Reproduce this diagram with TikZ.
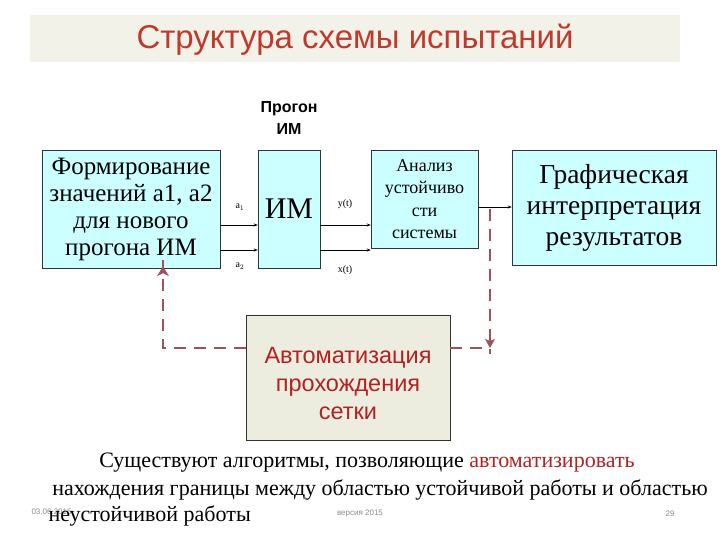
\documentclass[tikz,border=0pt]{standalone}
\usepackage{fontspec}
\setmainfont{Liberation Serif}
\setsansfont{Liberation Sans}
\usetikzlibrary{arrows.meta}
\definecolor{boxc}{HTML}{CCFFFF}
\definecolor{autoc}{HTML}{ECECDF}
\definecolor{titlec}{HTML}{C0392B}
\definecolor{dashc}{HTML}{A0525A}
\definecolor{redt}{HTML}{B22222}
\tikzset{
 blk/.style={draw=black!80,fill=boxc,inner sep=0pt,align=center},
 sig/.style={thick,-{Stealth[length=4pt]}},
 fb/.style={dashc,line width=2.2pt,dash pattern=on 12pt off 8pt},
 lbl/.style={font=\fontsize{10}{11}\selectfont},
}
\begin{document}
\begin{tikzpicture}[x=1pt,y=-1pt]
\useasboundingbox[fill=white] (0,0) rectangle (720,540);
\fill[autoc!70] (30,15) rectangle (680,62);
\node (title) at (355,40) {\sffamily\fontsize{33}{36}\selectfont\color{titlec}Структура схемы испытаний};
\node[align=center,font=\sffamily\bfseries\fontsize{16}{22}\selectfont] (run) at (289,118) {Прогон\\ИМ};
\node[blk,minimum width=178pt,minimum height=118pt,font=\fontsize{25}{27}\selectfont] (form) at (131,209) {Формирование\\значений а1, а2\\для нового\\прогона ИМ};
\node[blk,minimum width=62pt,minimum height=118pt,font=\fontsize{30}{32}\selectfont] (im) at (289,209) {ИМ};
\node[blk,minimum width=107pt,minimum height=98pt,font=\fontsize{18}{22.5}\selectfont] (an) at (424.5,199) {Анализ\\устойчиво\\сти\\системы};
\node[blk,minimum width=204pt,minimum height=115pt,font=\fontsize{27.5}{31}\selectfont] (gr) at (614,207.5) {Графическая\\интерпретация\\результатов};
\node[draw=black!80,fill=autoc,minimum width=204pt,minimum height=125pt,align=center,font=\sffamily\fontsize{23.5}{28}\selectfont,text=redt] (auto) at (348,377.5) {\\Автоматизация\\прохождения\\сетки};
\draw[sig] (form.east|-0,225) -- (im.west|-0,225);
\draw[sig] (form.east|-0,250) -- (im.west|-0,250);
\draw[sig] (im.east|-0,225) -- (an.west|-0,225);
\draw[sig] (im.east|-0,250) -- (an.west|-0,250);
\draw[sig] (an.east|-0,207) -- (gr.west|-0,207);
\node[lbl] (a1) at (240,207) {a$_1$};
\node[lbl] (a2) at (240,266) {a$_2$};
\node[lbl] (yt) at (345,204) {y(t)};
\node[lbl] (xt) at (345,270) {x(t)};
\coordinate (c1) at (163,348);
\coordinate (c2) at (490,348);
\coordinate (c3) at (490,209);
\draw[fb] (auto.west|-c1) -- (c1) -- ([yshift=8pt]form.south-|c1);
\fill[dashc] ([yshift=2pt]form.south-|c1) -- ++(-6,10) -- ++(6,-3) -- ++(6,3) -- cycle;
\draw[fb] (auto.east|-c2) -- (c2);
\draw[fb] (c3) -- ([yshift=-6pt]c2);
\fill[dashc] (c2) -- ++(-5,-9) -- ++(5,2) -- ++(5,-2) -- cycle;
\node[font=\fontsize{22}{26}\selectfont] (t1) at (367,463) {Существуют алгоритмы, позволяющие \textcolor{redt}{автоматизировать}};
\node[font=\fontsize{22}{26}\selectfont] (t2) at (380,490) {нахождения границы между областью устойчивой работы и областью};
\node[anchor=west,font=\sffamily\fontsize{8}{10}\selectfont,text=black!45] (date) at (28,512) {03.06.2015};
\node[anchor=west,font=\fontsize{22}{26}\selectfont] (t3) at (45,516) {неустойчивой работы};
\node[font=\sffamily\fontsize{8}{10}\selectfont,text=black!45] (ver) at (360,514) {версия 2015};
\node[font=\sffamily\fontsize{8}{10}\selectfont,text=black!45] (pg) at (670,514) {29};
\end{tikzpicture}
\end{document}
